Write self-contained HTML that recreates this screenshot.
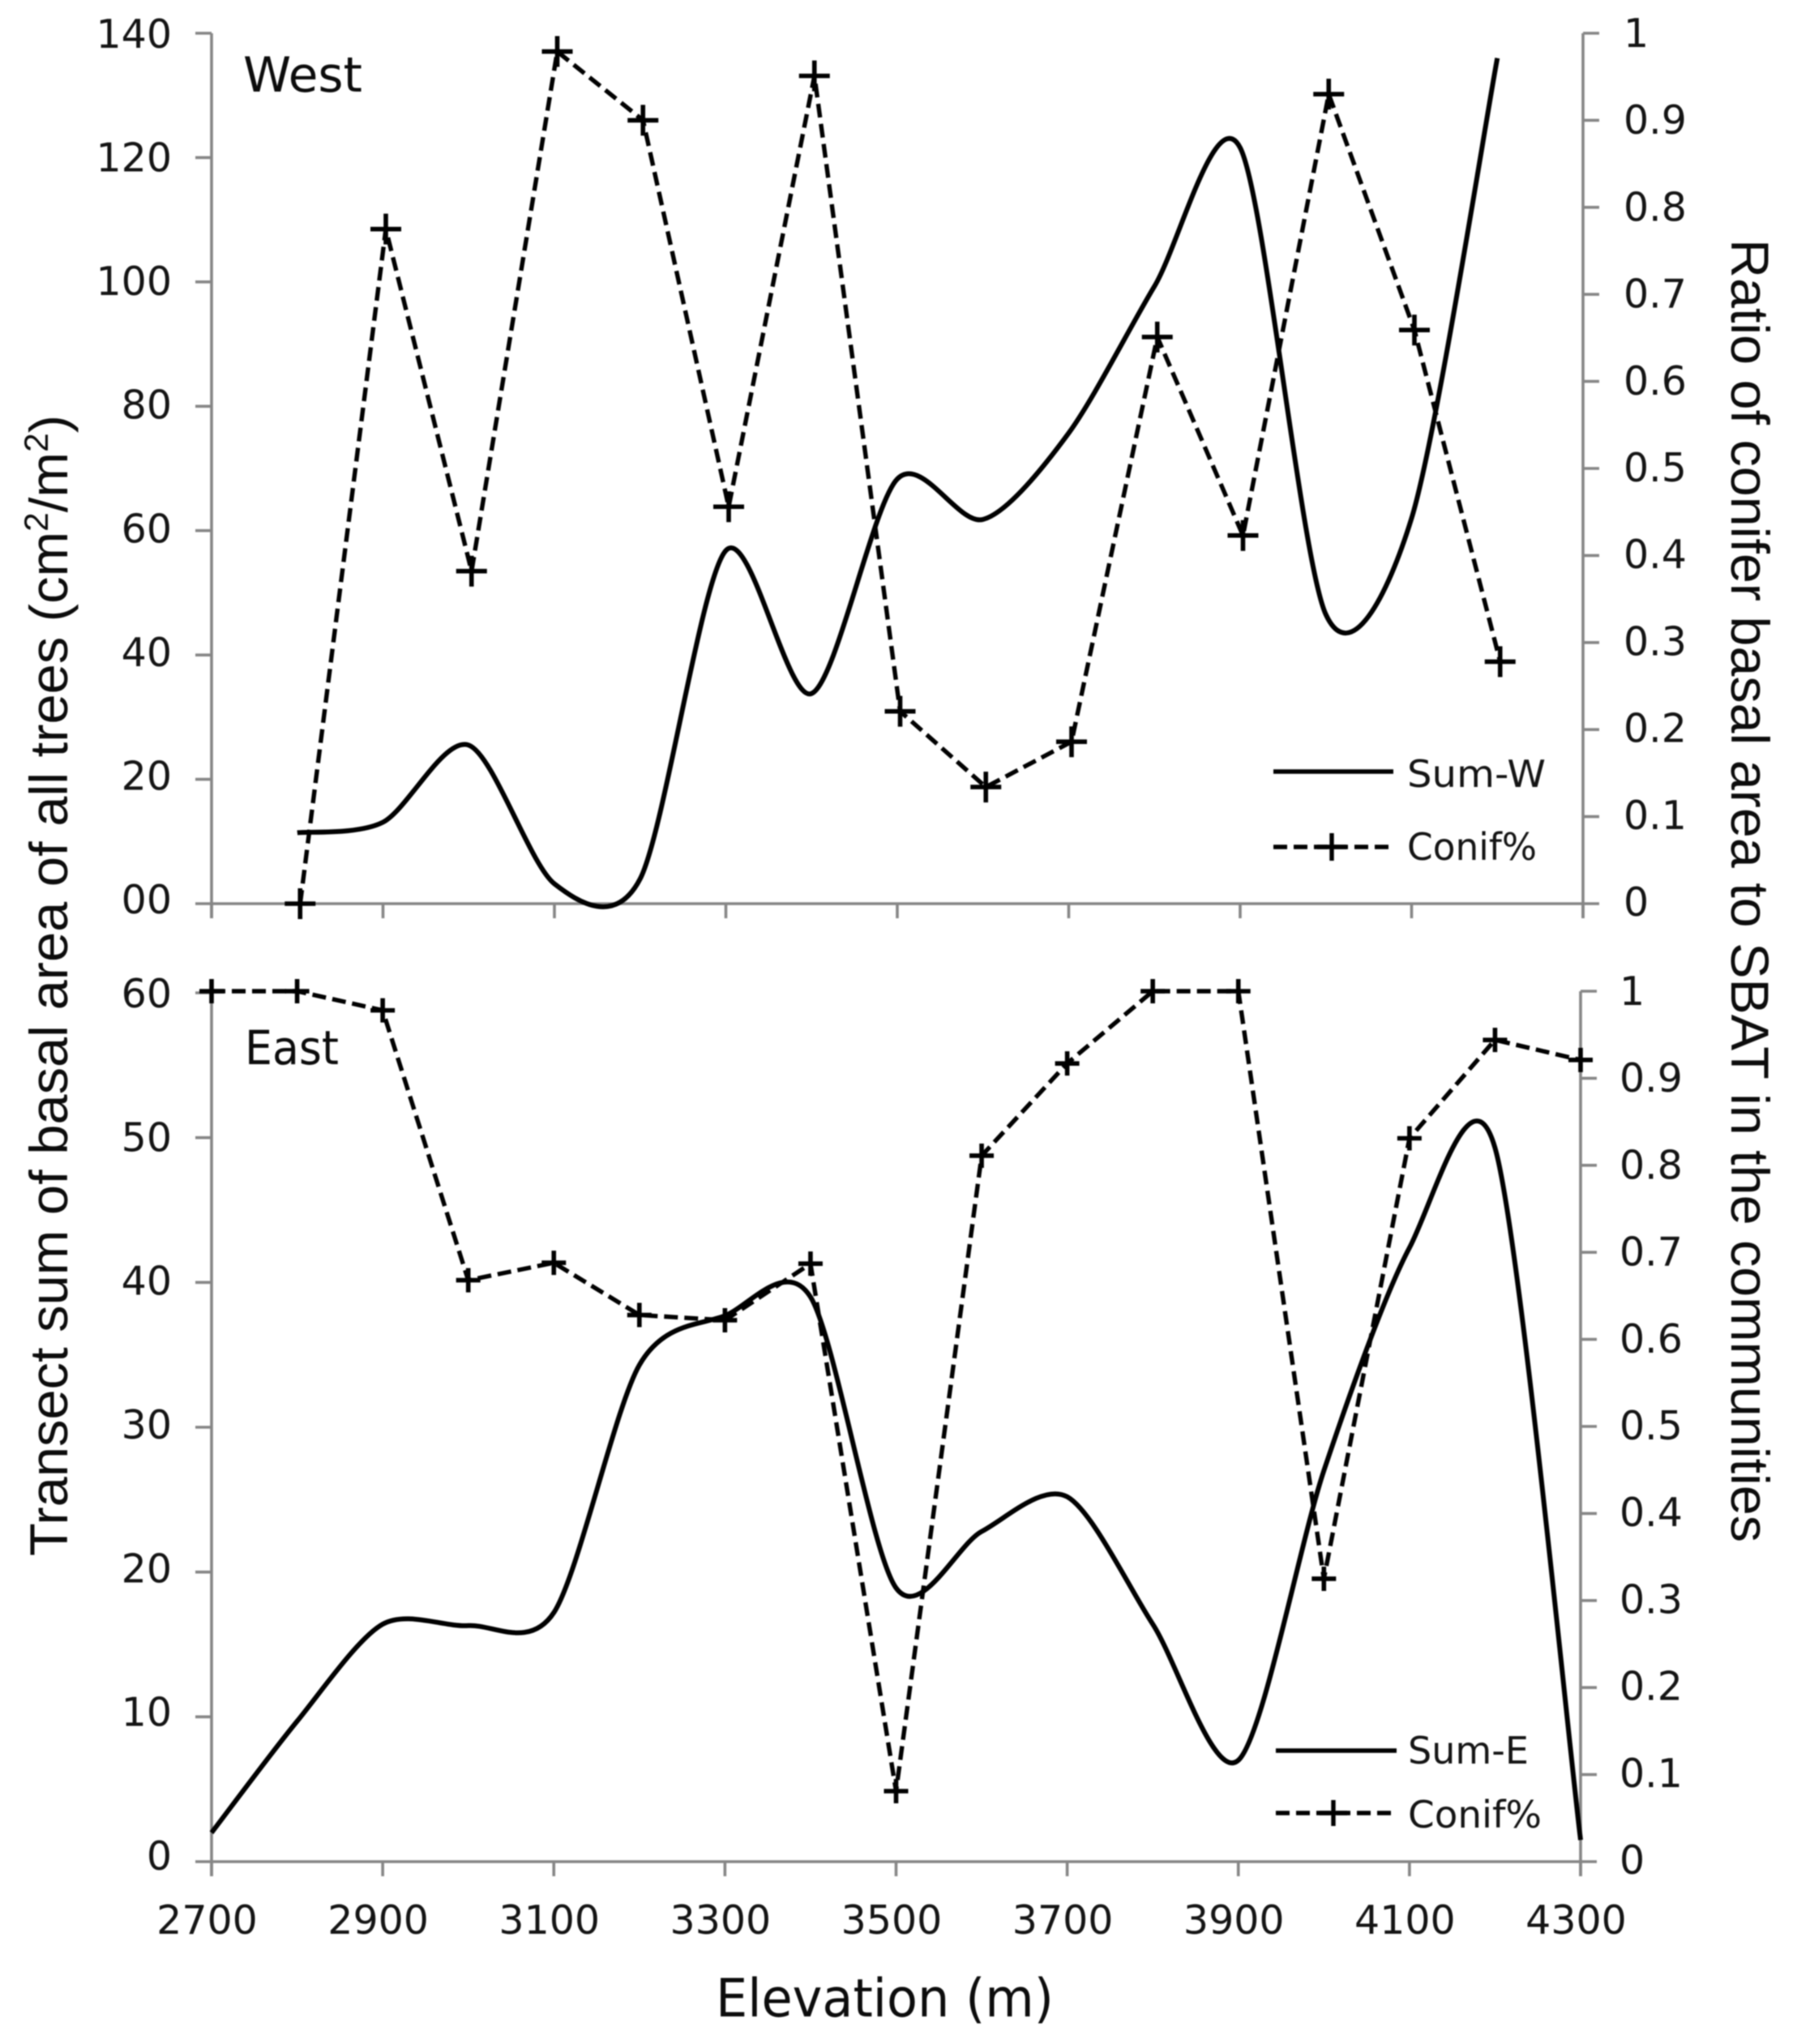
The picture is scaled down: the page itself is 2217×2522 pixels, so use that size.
<!DOCTYPE html>
<html lang="en">
<head>
<meta charset="utf-8">
<title>Basal area and conifer ratio by elevation</title>
<style>
html,body{margin:0;padding:0;background:#fff;}
svg{display:block;filter:blur(0.8px);}
.tick{font-family:"DejaVu Sans","Liberation Sans",sans-serif;font-size:49px;fill:#141414;}
.legend{font-family:"DejaVu Sans","Liberation Sans",sans-serif;font-size:46px;fill:#141414;}
.title{font-family:"Liberation Sans",sans-serif;font-size:66px;fill:#0c0c0c;}
.dj{font-family:"DejaVu Sans","Liberation Sans",sans-serif;fill:#0c0c0c;}
</style>
</head>
<body>
<svg id="chart" xmlns="http://www.w3.org/2000/svg" width="2217" height="2522" viewBox="0 0 2217 2522">
  <rect x="0" y="0" width="2217" height="2522" fill="#fff"/>
  <g id="layer-axes"></g>
  <g id="layer-series"></g>

  <text class="dj" x="300" y="113" font-size="60" textLength="147" lengthAdjust="spacingAndGlyphs">West</text>
  <text class="dj" x="302" y="1313" font-size="58" textLength="116" lengthAdjust="spacingAndGlyphs">East</text>

  <text class="title" transform="translate(83 1920) rotate(-90)" textLength="1408" lengthAdjust="spacingAndGlyphs">Transect sum of basal area of all trees (cm<tspan font-size="42" dy="-24">2</tspan><tspan dy="24">/m</tspan><tspan font-size="42" dy="-24">2</tspan><tspan dy="24">)</tspan></text>
  <text class="title" transform="translate(2136 295) rotate(90)" textLength="1608" lengthAdjust="spacingAndGlyphs">Ratio of conifer basal area to SBAT in the communities</text>
  <text class="dj" x="883" y="2488" font-size="65" textLength="417" lengthAdjust="spacingAndGlyphs">Elevation (m)</text>

  <g>
    <line x1="1571" x2="1719" y1="952" y2="952" stroke="#000" stroke-width="5.5"/>
    <text class="legend" x="1736" y="971" textLength="171" lengthAdjust="spacingAndGlyphs">Sum-W</text>
    <line x1="1571" x2="1715" y1="1045" y2="1045" stroke="#000" stroke-width="5.4" stroke-dasharray="17 8"/>
    <path d="M1625 1045H1661M1643 1028V1062" stroke="#000" stroke-width="5.4" fill="none"/>
    <text class="legend" x="1736" y="1061" textLength="160" lengthAdjust="spacingAndGlyphs">Conif%</text>
  </g>
  <g>
    <line x1="1574" x2="1723" y1="2160" y2="2160" stroke="#000" stroke-width="5.5"/>
    <text class="legend" x="1737" y="2176" textLength="149" lengthAdjust="spacingAndGlyphs">Sum-E</text>
    <line x1="1574" x2="1718" y1="2237" y2="2237" stroke="#000" stroke-width="5.4" stroke-dasharray="17 8"/>
    <path d="M1628 2237H1662M1645 2221V2253" stroke="#000" stroke-width="5.4" fill="none"/>
    <text class="legend" x="1737" y="2255" textLength="165" lengthAdjust="spacingAndGlyphs">Conif%</text>
  </g>
</svg>

<script>
// ---- data ----
const westElevations = [2800,2900,3000,3100,3200,3300,3400,3500,3600,3700,3800,3900,4000,4100,4200];
const westSum = [11.4,13.1,25.5,3.2,4,56.8,33.8,68.3,61.8,75.7,99.3,121.6,46.5,62,136];
const westConif = [0,0.775,0.382,0.979,0.9,0.456,0.951,0.221,0.134,0.186,0.651,0.423,0.93,0.659,0.278];

const eastElevations = [2700,2800,2900,3000,3100,3200,3300,3400,3500,3600,3700,3800,3900,4000,4100,4200,4300];
const eastSum = [2,9.7,16.4,16.3,17.2,34.3,37.7,39,18.9,22.8,25.2,16.4,7,27,42.4,49.3,1.5];
const eastConif = [1,1,0.978,0.668,0.688,0.628,0.622,0.687,0.081,0.811,0.917,1,1,0.325,0.831,0.944,0.921];

const xTicks = [2700,2900,3100,3300,3500,3700,3900,4100,4300];
const xTickLabels = ["2700","2900","3100","3300","3500","3700","3900","4100","4300"];
const westLeftTicks = [0,20,40,60,80,100,120,140];
const westLeftLabels = ["00","20","40","60","80","100","120","140"];
const eastLeftTicks = [0,10,20,30,40,50,60];
const eastLeftLabels = ["0","10","20","30","40","50","60"];
const ratioTicks = [0,0.1,0.2,0.3,0.4,0.5,0.6,0.7,0.8,0.9,1];
const ratioLabels = ["0","0.1","0.2","0.3","0.4","0.5","0.6","0.7","0.8","0.9","1"];

// ---- scales ----
const NS = "http://www.w3.org/2000/svg";
const axesLayer = document.getElementById("layer-axes");
const seriesLayer = document.getElementById("layer-series");

function linear(d0, d1, r0, r1) {
  return function (v) { return r0 + (v - d0) * (r1 - r0) / (d1 - d0); };
}

const west = {
  key: "west",
  x: linear(2700, 4300, 261, 1953),
  yLeft: linear(0, 140, 1115, 41),
  yRight: linear(0, 1, 1115, 41),
  top: 41, bottom: 1115, left: 261, right: 1953,
  leftTicks: westLeftTicks, leftLabels: westLeftLabels, leftDrift: -6,
  rightLabelX: 2003, rightTop: 41,
  markerShift: 3.5, markerArm: 19, markerWidth: 5.6, sumWidth: 6
};
const east = {
  key: "east",
  x: linear(2700, 4300, 261, 1950),
  yLeft: linear(0, 60, 2297, 1225),
  yRight: linear(0, 1, 2297, 1223),
  top: 1225, bottom: 2297, left: 261, right: 1950,
  leftTicks: eastLeftTicks, leftLabels: eastLeftLabels, leftDrift: -8,
  rightLabelX: 1998, rightTop: 1223,
  markerShift: 0, markerArm: 15, markerWidth: 5.6, sumWidth: 6
};

function svgEl(tag, parent) {
  const el = document.createElementNS(NS, tag);
  parent.appendChild(el);
  return el;
}

function axisLine(x1, y1, x2, y2) {
  const el = svgEl("line", axesLayer);
  el.setAttribute("x1", x1);
  el.setAttribute("y1", y1);
  el.setAttribute("x2", x2);
  el.setAttribute("y2", y2);
  el.setAttribute("stroke", "#868686");
  el.setAttribute("stroke-width", "3.6");
  return el;
}

function tickText(content, x, y, anchor) {
  const el = svgEl("text", axesLayer);
  el.setAttribute("class", "tick");
  el.setAttribute("x", x);
  el.setAttribute("y", y);
  el.setAttribute("text-anchor", anchor);
  el.textContent = content;
  return el;
}

function drawAxes(p, withXLabels) {
  const leftAxis = axisLine(p.left, p.top, p.left, p.bottom + 18);
  
  

  const rightAxis = axisLine(p.right, p.rightTop, p.right, p.bottom + 18);
  
  

  const xAxis = axisLine(p.left, p.bottom, p.right, p.bottom);
  
  

  p.leftTicks.forEach(function (t, i) {
    const y = p.yLeft(t);
    const tick = axisLine(p.left - 20, y, p.left, y);
    
    
    const frac = 1 - t / p.leftTicks[p.leftTicks.length - 1];
    const label = tickText(p.leftLabels[i], 212, y + 18 + p.leftDrift * frac, "end");
    
    
  });

  ratioTicks.forEach(function (t, i) {
    const y = p.yRight(t);
    const tick = axisLine(p.right, y, p.right + 20, y);
    
    
    const label = tickText(ratioLabels[i], p.rightLabelX, y + 17 - 2 * (1 - t), "start");
    
    
  });

  xTicks.forEach(function (t, i) {
    const x = p.x(t);
    const tick = axisLine(x, p.bottom, x, p.bottom + 18);
    
    
    if (withXLabels) {
      const label = tickText(xTickLabels[i], x - 5.5, p.bottom + 89, "middle");
      
      
    }
  });
}

// Excel-style smoothed line through the read values
function smoothPath(pts) {
  const k = 7;
  let d = "M" + pts[0][0].toFixed(1) + " " + pts[0][1].toFixed(1);
  for (let i = 0; i < pts.length - 1; i++) {
    const p0 = pts[Math.max(i - 1, 0)];
    const p1 = pts[i];
    const p2 = pts[i + 1];
    const p3 = pts[Math.min(i + 2, pts.length - 1)];
    const c1x = p1[0] + (p2[0] - p0[0]) / k;
    const c1y = p1[1] + (p2[1] - p0[1]) / k;
    const c2x = p2[0] - (p3[0] - p1[0]) / k;
    const c2y = p2[1] - (p3[1] - p1[1]) / k;
    d += "C" + c1x.toFixed(1) + " " + c1y.toFixed(1) + " " + c2x.toFixed(1) + " " + c2y.toFixed(1) + " " + p2[0].toFixed(1) + " " + p2[1].toFixed(1);
  }
  return d;
}

function drawSeries(p, elevations, sums, conif, sumName) {
  const sumPts = elevations.map(function (e, i) { return [p.x(e), p.yLeft(sums[i])]; });
  const sumLine = svgEl("path", seriesLayer);
  
  
  sumLine.setAttribute("d", smoothPath(sumPts));
  sumLine.setAttribute("fill", "none");
  sumLine.setAttribute("stroke", "#000");
  sumLine.setAttribute("stroke-width", p.sumWidth);
  sumLine.setAttribute("stroke-linejoin", "round");

  const ratioPts = elevations.map(function (e, i) { return [p.x(e) + p.markerShift, p.yRight(conif[i])]; });
  const ratioLine = svgEl("polyline", seriesLayer);
  
  
  ratioLine.setAttribute("points", ratioPts.map(function (q) { return q[0].toFixed(1) + "," + q[1].toFixed(1); }).join(" "));
  ratioLine.setAttribute("fill", "none");
  ratioLine.setAttribute("stroke", "#000");
  ratioLine.setAttribute("stroke-width", "5.4");
  ratioLine.setAttribute("stroke-dasharray", "17 8");

  ratioPts.forEach(function (q, i) {
    const a = p.markerArm;
    const marker = svgEl("path", seriesLayer);
    
    
    marker.setAttribute("d", "M" + (q[0] - a) + " " + q[1] + "H" + (q[0] + a) + "M" + q[0] + " " + (q[1] - a) + "V" + (q[1] + a));
    marker.setAttribute("fill", "none");
    marker.setAttribute("stroke", "#000");
    marker.setAttribute("stroke-width", p.markerWidth);
  });
}

drawAxes(west, false);
drawAxes(east, true);
drawSeries(west, westElevations, westSum, westConif, "sum-w");
drawSeries(east, eastElevations, eastSum, eastConif, "sum-e");
</script>
</body>
</html>
